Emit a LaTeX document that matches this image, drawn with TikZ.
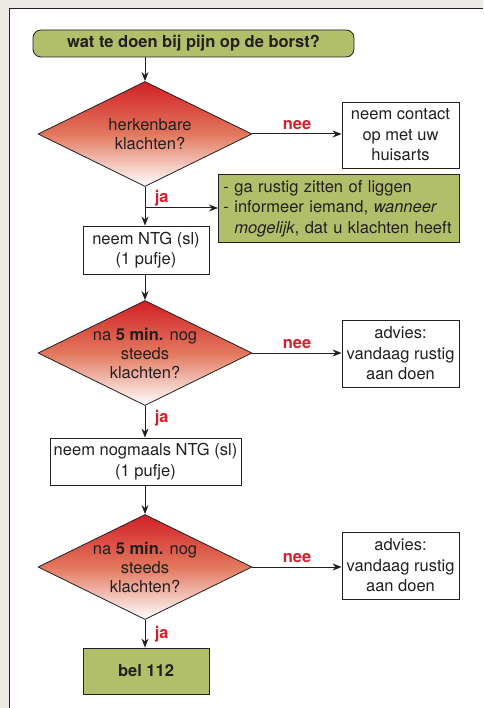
\documentclass[tikz,border=0pt]{standalone}
\usepackage{fontspec}
\setmainfont{TeX Gyre Heros}
\usetikzlibrary{shapes.geometric,arrows.meta,positioning}
\definecolor{pagebg}{RGB}{237,233,229}
\definecolor{leafgreen}{RGB}{178,191,106}
\definecolor{alarmred}{RGB}{210,32,38}
\definecolor{midsalmon}{RGB}{226,120,94}
\definecolor{inkgray}{RGB}{35,31,32}
\definecolor{labelred}{RGB}{214,30,45}
\tikzset{
  txt/.style={font=\fontsize{16.5}{20.5}\selectfont, text=inkgray},
  whitebox/.style={txt, draw=inkgray, line width=0.8pt, fill=white, align=center, inner sep=0pt},
  greenbox/.style={whitebox, fill=leafgreen},
  question/.style={txt, diamond, draw=inkgray, line width=0.8pt, top color=alarmred,
    bottom color=white, middle color=midsalmon, align=center, inner xsep=-15pt,
    inner ysep=-10pt, shape aspect=2, minimum width=214pt, minimum height=105pt,
    font=\fontsize{16.5}{19}\selectfont},
  arr/.style={draw=inkgray, line width=1pt, -{Stealth[length=9pt,width=7pt]}},
  answer/.style={font=\fontsize{16.5}{20}\selectfont\bfseries, text=labelred}
}
\begin{document}
\begin{tikzpicture}[x=1pt,y=-1pt]
    % Draw the page and the panel
    \useasboundingbox (0,0) rectangle (483,708);
    \fill[pagebg] (0,0) rectangle (483,708);
    \fill[white] (9,9) rectangle (483,708);
    \draw[inkgray, line width=1pt] (9,708) -- (9,9) -- (483,9);
    % Draw the title
    \node[greenbox, rounded corners=8pt, minimum width=321pt, minimum height=27pt,
      font=\fontsize{16.5}{20}\selectfont\bfseries] (title) at (193.5,43.5)
      {wat te doen bij pijn op de borst?};
    % Draw the first question
    \node[question] (herken) at (145,134) {\hspace*{10pt}herkenbare\\\hspace*{10pt}klachten?};
    \node[whitebox, minimum width=117pt, minimum height=66pt] (huisarts) at (400.5,135)
      {neem contact\\op met uw\\huisarts};
    \node[greenbox, anchor=north west, align=left, text width=231pt, inner xsep=5pt,
      minimum height=68pt] (rustig) at (218,174)
      {- ga rustig zitten of liggen\\- informeer iemand, \textit{wanneer}\\
       \phantom{- }\textit{mogelijk}, dat u klachten heeft};
    \node[whitebox, minimum width=126pt, minimum height=48pt] (ntg) at (146,250)
      {neem NTG (sl)\\(1 pufje)};
    % Draw the second question
    \node[question] (vijfmin) at (145,353) {na \textbf{5 min.} nog\\steeds\\klachten?};
    \node[whitebox, minimum width=117pt, minimum height=67pt] (advies) at (400.5,353.5)
      {advies:\\vandaag rustig\\aan doen};
    \node[whitebox, minimum width=191pt, minimum height=47pt] (ntgnog) at (145.5,461.5)
      {neem nogmaals NTG (sl)\\(1 pufje)};
    % Draw the third question
    \node[question] (nogsteeds) at (145,567) {na \textbf{5 min.} nog\\steeds\\klachten?};
    \node[whitebox, minimum width=117pt, minimum height=67pt] (adviesnog) at (400.5,565.5)
      {advies:\\vandaag rustig\\aan doen};
    \node[greenbox, minimum width=126pt, minimum height=46pt,
      font=\fontsize{16.5}{20}\selectfont\bfseries] (bel) at (146,671) {bel 112};
    % Draw the arrows
    \coordinate (splits) at (145,208);
    \draw[arr] (herken.north |- title.south) -- (herken.north);
    \draw[arr] (herken.east) -- node[answer, above=1pt] {nee} (herken.east -| huisarts.west);
    \draw[arr] (herken.south) -- node[answer, right=6pt, pos=0.28] {ja} (herken.south |- ntg.north);
    \draw[arr] (splits) -- (splits -| rustig.west);
    \draw[arr] (herken.south |- ntg.south) -- (vijfmin.north);
    \draw[arr] (vijfmin.east) -- node[answer, above=1pt] {nee} (vijfmin.east -| advies.west);
    \draw[arr] (vijfmin.south) -- node[answer, right=6pt, pos=0.4] {ja} (vijfmin.south |- ntgnog.north);
    \draw[arr] (vijfmin.south |- ntgnog.south) -- (nogsteeds.north);
    \draw[arr] (nogsteeds.east) -- node[answer, above=1pt] {nee} (nogsteeds.east -| adviesnog.west);
    \draw[arr] (nogsteeds.south) -- node[answer, right=6pt, pos=0.5] {ja} (nogsteeds.south |- bel.north);
\end{tikzpicture}
\end{document}
